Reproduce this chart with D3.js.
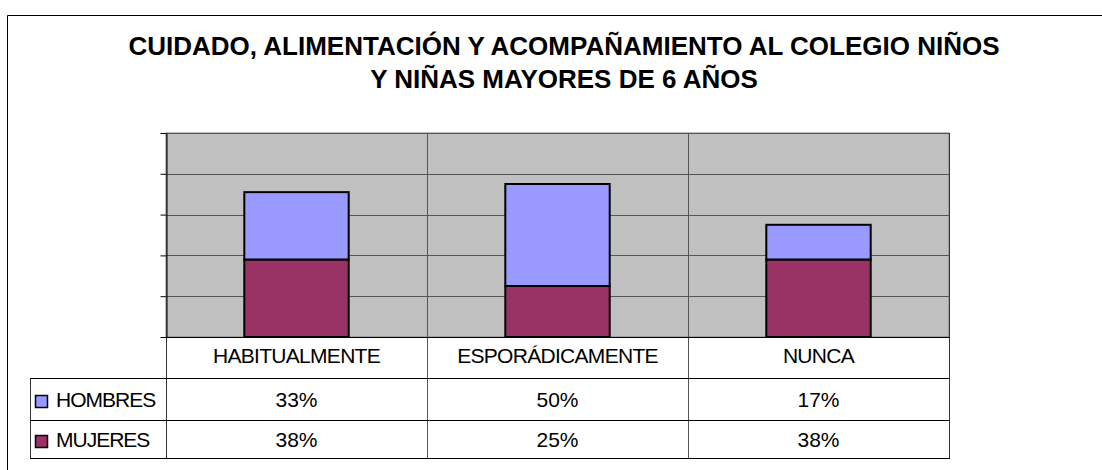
<!DOCTYPE html>
<html>
<head>
<meta charset="utf-8">
<script src="https://cdn.jsdelivr.net/npm/d3@7"></script>
<style>
  body { margin: 0; background: #fff; }
  svg { display: block; font-family: "Liberation Sans", Arial, sans-serif; }
</style>
</head>
<body>
<div id="chart"></div>
<script>
// Data
const categories = ["HABITUALMENTE", "ESPORÁDICAMENTE", "NUNCA"];
const series = ["MUJERES", "HOMBRES"]; // stacking order, bottom first
const hombres = [33, 50, 17];
const mujeres = [38, 25, 38];
const yTicks = [0, 20, 40, 60, 80, 100];
const titleLines = [
  "CUIDADO, ALIMENTACIÓN Y ACOMPAÑAMIENTO AL COLEGIO NIÑOS",
  "Y NIÑAS MAYORES DE 6 AÑOS"
];

const colors = { HOMBRES: "#9999FF", MUJERES: "#993366" };

const W = 1102, H = 470;
const plot = { left: 166, right: 949, top: 133, bottom: 337 };
const rowH = [41, 42, 38]; // category row, hombres row, mujeres row
const tableLeft = 30;

const svg = d3.select("#chart").append("svg")
  .attr("width", W)
  .attr("height", H);

// Outer frame (left and top edges visible)
svg.append("line")
  .attr("x1", 7.5).attr("y1", 15.5).attr("x2", W).attr("y2", 15.5)
  .style("stroke", "#000").style("stroke-width", 1);
svg.append("line")
  .attr("x1", 7.5).attr("y1", 15.5).attr("x2", 7.5).attr("y2", H)
  .style("stroke", "#000").style("stroke-width", 1);

// Title
svg.append("text")
  .attr("text-anchor", "middle")
  .style("font-size", "26px")
  .style("font-weight", "bold")
  .style("fill", "#000")
  .selectAll("tspan")
  .data(titleLines)
  .enter()
  .append("tspan")
  .attr("x", 564)
  .attr("y", (d, i) => 55 + i * 33)
  .text(d => d);

// Scales
const x = d3.scaleBand()
  .domain(categories)
  .range([plot.left, plot.right])
  .paddingInner(0)
  .paddingOuter(0);

const y = d3.scaleLinear()
  .domain([0, 100])
  .range([plot.bottom, plot.top]);

// Plot background
svg.append("rect")
  .attr("x", plot.left)
  .attr("y", plot.top)
  .attr("width", plot.right - plot.left)
  .attr("height", plot.bottom - plot.top)
  .style("fill", "#C0C0C0")
  .style("stroke", "#808080")
  .style("stroke-width", 1);

// Horizontal gridlines
svg.append("g")
  .selectAll("line")
  .data(yTicks.slice(1))
  .enter()
  .append("line")
  .attr("x1", plot.left)
  .attr("x2", plot.right)
  .attr("y1", d => Math.round(y(d)) + 0.5)
  .attr("y2", d => Math.round(y(d)) + 0.5)
  .style("stroke", "#555")
  .style("stroke-width", 1);

// Stacked bars
const tableData = categories.map((c, i) => ({ cat: c, HOMBRES: hombres[i], MUJERES: mujeres[i] }));
const stacked = d3.stack().keys(series)(tableData);
const barW = x.bandwidth() * 0.4;

svg.append("g")
  .selectAll("g")
  .data(stacked)
  .enter()
  .append("g")
  .style("fill", d => colors[d.key])
  .selectAll("rect")
  .data(d => d)
  .enter()
  .append("rect")
  .attr("x", d => x(d.data.cat) + (x.bandwidth() - barW) / 2)
  .attr("y", d => y(d[1]))
  .attr("width", barW)
  .attr("height", d => y(d[0]) - y(d[1]))
  .style("stroke", "#000")
  .style("stroke-width", 2);

// Y axis with ticks, no labels
svg.append("g")
  .attr("transform", `translate(${plot.left + 0.5},0)`)
  .call(d3.axisLeft(y).tickValues(yTicks).tickFormat("").tickSize(6).tickSizeOuter(0))
  .call(g => g.select(".domain").style("stroke", "#000"))
  .call(g => g.selectAll(".tick line").style("stroke", "#000"));

// Data table
const rowTop = [plot.bottom, plot.bottom + rowH[0], plot.bottom + rowH[0] + rowH[1]];
const tableBottom = rowTop[2] + rowH[2];

// vertical dividers between categories
svg.append("g")
  .selectAll("line")
  .data(categories.slice(1))
  .enter()
  .append("line")
  .attr("x1", d => Math.round(x(d)) + 0.5)
  .attr("x2", d => Math.round(x(d)) + 0.5)
  .attr("y1", plot.top)
  .attr("y2", tableBottom)
  .style("stroke", "#555")
  .style("stroke-width", 1);

// left edge of plot / table
svg.append("line")
  .attr("x1", plot.left + 0.5).attr("x2", plot.left + 0.5)
  .attr("y1", plot.top).attr("y2", tableBottom)
  .style("stroke", "#333");
// right edge
svg.append("line")
  .attr("x1", plot.right + 0.5).attr("x2", plot.right + 0.5)
  .attr("y1", plot.top).attr("y2", tableBottom)
  .style("stroke", "#333");
// legend column left edge
svg.append("line")
  .attr("x1", tableLeft + 0.5).attr("x2", tableLeft + 0.5)
  .attr("y1", rowTop[1]).attr("y2", tableBottom)
  .style("stroke", "#333");

// horizontal table lines
svg.append("line")
  .attr("x1", plot.left).attr("x2", plot.right + 1)
  .attr("y1", plot.bottom + 0.5).attr("y2", plot.bottom + 0.5)
  .style("stroke", "#000");
[rowTop[1], rowTop[2], tableBottom].forEach(yy => {
  svg.append("line")
    .attr("x1", tableLeft).attr("x2", plot.right + 1)
    .attr("y1", yy + 0.5).attr("y2", yy + 0.5)
    .style("stroke", "#000");
});

// category labels
svg.append("g")
  .selectAll("text")
  .data(categories)
  .enter()
  .append("text")
  .attr("x", d => x(d) + x.bandwidth() / 2)
  .attr("y", rowTop[0] + 26)
  .attr("text-anchor", "middle")
  .style("font-size", "21px")
  .style("letter-spacing", "-0.7px")
  .text(d => d);

// value rows
const rows = [
  { name: "HOMBRES", values: hombres, top: rowTop[1], base: 407 },
  { name: "MUJERES", values: mujeres, top: rowTop[2], base: 447 }
];

rows.forEach(r => {
  svg.append("g")
    .selectAll("text")
    .data(r.values)
    .enter()
    .append("text")
    .attr("x", (d, i) => x(categories[i]) + x.bandwidth() / 2)
    .attr("y", r.base)
    .attr("text-anchor", "middle")
    .style("font-size", "21px")
    .text(d => d + "%");

  // legend key
  svg.append("rect")
    .attr("x", 35.5)
    .attr("y", r.base - 11.5)
    .attr("width", 12)
    .attr("height", 12)
    .style("fill", colors[r.name])
    .style("stroke", "#000")
    .style("stroke-width", 1.5);

  svg.append("text")
    .attr("x", 56)
    .attr("y", r.base)
    .style("font-size", "21px")
    .style("letter-spacing", "-1px")
    .text(r.name);
});
</script>
</body>
</html>
